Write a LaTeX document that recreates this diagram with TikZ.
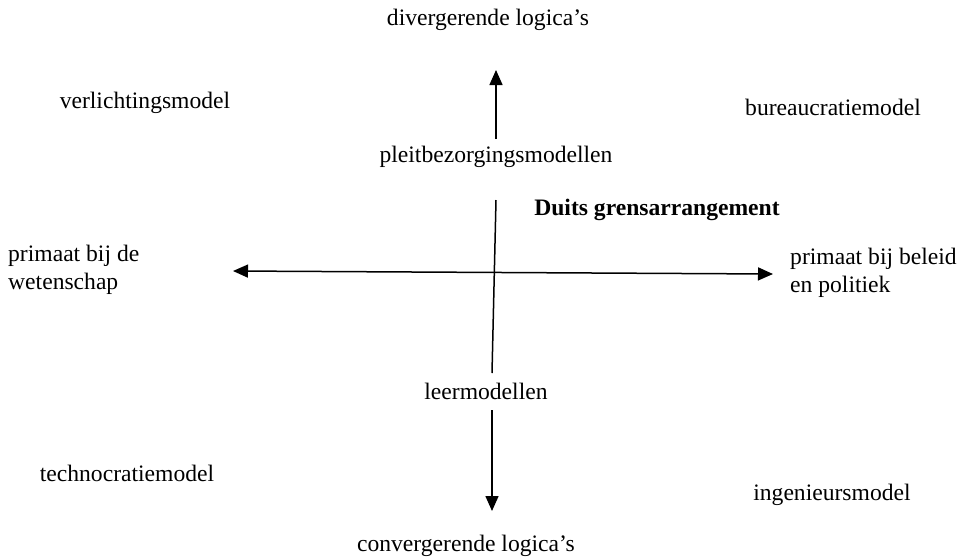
\documentclass[tikz,border=0pt]{standalone}
\usepackage{fontspec}
\setmainfont{Liberation Serif}
\usetikzlibrary{arrows.meta}
\begin{document}
\begin{tikzpicture}[x=1pt,y=-1pt,
  lbl/.style={font=\fontsize{23.6}{27.5}\selectfont, inner sep=0pt, align=left},
  axis/.style={line width=1.5pt},
  tip/.tip={Triangle[length=15pt,width=13pt]},
  arr/.style={axis, -tip}]
\useasboundingbox (0,0) rectangle (959,558);
% pole labels
\node[lbl] (div) at (488,20) {divergerende logica's};
\node[lbl] (conv) at (466,546) {convergerende logica's};
\node[lbl, anchor=west] (wet) at (8,270) {primaat bij de\\wetenschap};
\node[lbl, anchor=west] (pol) at (790,273) {primaat bij beleid\\en politiek};
% axis labels
\node[lbl] (pleit) at (496,157) {pleitbezorgingsmodellen};
\node[lbl] (leer) at (486,391) {leermodellen};
\node[lbl, font=\fontsize{23.6}{27.5}\selectfont\bfseries] (duits) at (657,210) {Duits grensarrangement};
% quadrant models
\node[lbl] (verl) at (145,103) {verlichtingsmodel};
\node[lbl] (bur) at (833,107) {bureaucratiemodel};
\node[lbl] (tech) at (127,473) {technocratiemodel};
\node[lbl] (ing) at (832,495) {ingenieursmodel};
% axis end points
\coordinate (top) at (496,70);
\coordinate (bot) at (492,511);
\coordinate (left) at (233,271);
\coordinate (right) at (773,274);
\coordinate (uptail) at (496,139);
\coordinate (midtop) at (496,200);
\coordinate (midbot) at (492,373);
\coordinate (downtail) at (492,410);
% axes
\draw[arr] (uptail) -- (top);
\draw[axis] (midtop) -- (midbot);
\draw[arr] (downtail) -- (bot);
\draw[axis, tip-tip] (left) -- (right);
\end{tikzpicture}
\end{document}
